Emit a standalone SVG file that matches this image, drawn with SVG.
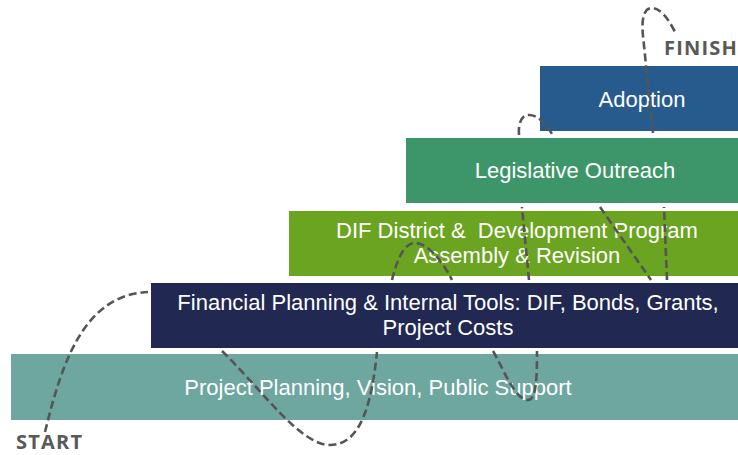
<svg xmlns="http://www.w3.org/2000/svg" width="738" height="455" viewBox="0 0 738 455">
  <style>
    .bar-label { font-family: "Liberation Sans", Arial, sans-serif; font-size: 22px; fill: #ffffff; text-anchor: middle; }
    .end-label { font-family: "Open Sans", "Noto Sans", "DejaVu Sans", sans-serif; font-size: 20px; font-weight: bold; fill: #595959; letter-spacing: 1.2px; }
    .path { fill: none; stroke: #555555; stroke-width: 2.6; stroke-dasharray: 8 4; stroke-linecap: butt; }
  </style>
  <rect width="738" height="455" fill="#ffffff"/>

  <!-- Stair steps, bottom to top -->
  <g id="step-project-planning">
    <rect x="11" y="354" width="740" height="66" fill="#6ea6a0"/>
    <text class="bar-label" x="378" y="395">Project Planning, Vision, Public Support</text>
  </g>

  <g id="step-financial-planning">
    <rect x="151" y="283" width="600" height="65" fill="#212851"/>
    <text class="bar-label" x="448" y="310">Financial Planning &amp; Internal Tools: DIF, Bonds, Grants,<tspan x="448" dy="25">Project Costs</tspan></text>
  </g>

  <g id="step-dif-district">
    <rect x="289" y="211" width="460" height="65" fill="#6ba420"/>
    <text class="bar-label" x="517" y="238" xml:space="preserve">DIF District &amp;  Development Program<tspan x="517" dy="25">Assembly &amp; Revision</tspan></text>
  </g>

  <g id="step-legislative-outreach">
    <rect x="406" y="138" width="345" height="65" fill="#3d9669"/>
    <text class="bar-label" x="575" y="178">Legislative Outreach</text>
  </g>

  <g id="step-adoption">
    <rect x="540" y="66" width="210" height="65" fill="#275b8d"/>
    <text class="bar-label" x="642" y="107">Adoption</text>
  </g>

  <!-- Dashed route weaving over and under the steps -->
  <g id="connectors">
    <path class="path" d="M45,432 C62,362 84,295 148,292"/>
    <path class="path" d="M222,351 C262,390 300,445 330,445 C362,445 372,400 377,352"/>
    <path class="path" d="M392,280 C398,256 405,243 415,243 C428,243 443,262 452,280"/>
    <path class="path" d="M493,351 C503,368 515,400 528,400 C536,400 537,380 537,351"/>
    <path class="path" d="M529,280 L522,207"/>
    <path class="path" d="M519,135 C518,122 522,115 529,115 C537,115 545,122 552,134"/>
    <path class="path" d="M600,207 L651,280"/>
    <path class="path" d="M667,280 L664,207"/>
    <path class="path" d="M653,133 L643,36 C641,16 645,8 652,8 C660,8 668,18 675,32"/>
  </g>

  <g id="start">
    <text class="end-label" x="16" y="449">START</text>
  </g>
  <g id="finish">
    <text class="end-label" x="664" y="55">FINISH</text>
  </g>
</svg>
